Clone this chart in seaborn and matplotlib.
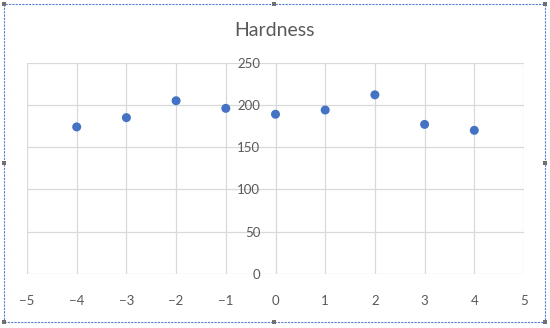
import matplotlib
matplotlib.use("Agg")
import matplotlib.pyplot as plt
import seaborn as sns
import pandas as pd
from matplotlib.patches import Rectangle

# Data
x_vals = [-4, -3, -2, -1, 0, 1, 2, 3, 4]
hardness = [174, 185, 205, 196, 189, 194, 212, 177, 170]
x_ticks = [-5, -4, -3, -2, -1, 0, 1, 2, 3, 4, 5]
y_ticks = [0, 50, 100, 150, 200, 250]

df = pd.DataFrame({'x': x_vals, 'hardness': hardness})

sns.set_theme(style="white")
plt.rcParams['font.family'] = ['Lato', 'DejaVu Sans']

text_col = '#595959'
grid_col = '#d9d9d9'

fig = plt.figure(figsize=(5.5, 3.28), dpi=100)
ax = fig.add_axes([27 / 550, 1 - 274 / 328, 497 / 550, 211.3 / 328])

sns.scatterplot(data=df, x='x', y='hardness', ax=ax, color='#4472C4',
                s=42, edgecolor='none', zorder=3)

ax.set_xlim(-5, 5)
ax.set_ylim(0, 250)
ax.set_xticks(x_ticks)
ax.set_yticks(y_ticks)
ax.grid(True, color=grid_col, linewidth=0.9)
ax.set_axisbelow(True)
for s in ['top', 'right', 'bottom', 'left']:
    ax.spines[s].set_visible(False)
ax.spines['left'].set_position(('data', 0))
ax.tick_params(axis='x', length=0, pad=15, labelsize=9.5, labelcolor=text_col)
ax.tick_params(axis='y', length=0, pad=11, labelsize=9.5, labelcolor=text_col)
ax.set_xticklabels([str(t).replace('-', '\u2212') for t in x_ticks])
ax.set_xlabel('')
ax.set_ylabel('')

fig.text(0.5, 1 - 30 / 328, 'Hardness', ha='center', va='center',
         fontsize=14, color=text_col)

# Dashed selection frame with handles, as in the screenshot
fig.patches.append(Rectangle((4 / 550, 1 - 322 / 328), 541 / 550, 318 / 328,
                             transform=fig.transFigure, fill=False,
                             edgecolor='#5b7fd0', linewidth=0.8, linestyle=(0, (2, 1))))
for hx in [4, 274, 545]:
    for hy in [4, 163, 322]:
        if hx == 274 and hy == 163:
            continue
        fig.patches.append(Rectangle(((hx - 2) / 550, 1 - (hy + 2) / 328), 4 / 550, 4 / 328,
                                     transform=fig.transFigure, facecolor='#707070',
                                     edgecolor='none'))

fig.savefig('out.png', dpi=100)
